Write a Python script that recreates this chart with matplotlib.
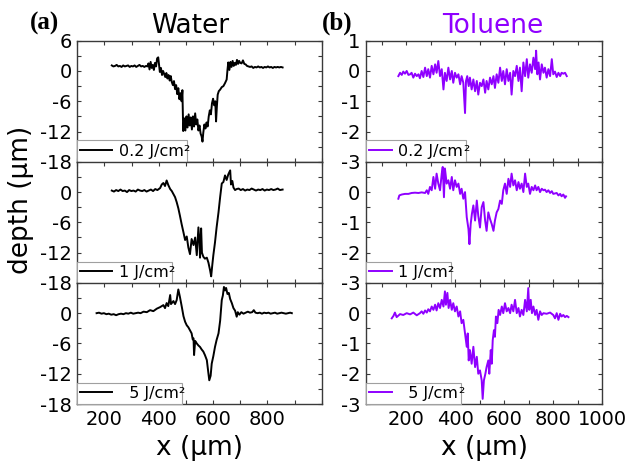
import matplotlib
matplotlib.use("Agg")
import matplotlib.pyplot as plt
from matplotlib.ticker import MultipleLocator, FuncFormatter

plt.rcParams['font.family'] = ['DejaVu Sans']
plt.rcParams['axes.unicode_minus'] = False

PURPLE = '#8f00ff'

# ---------------- Water, 0.2 J/cm2 ----------------
w1_x = [227, 233, 239, 245, 251, 257, 263, 269, 275, 281, 287, 293, 299, 305, 311, 317, 323, 329, 335, 341, 347, 353, 358,
        362, 366, 370, 374, 378, 382, 386, 390, 394, 398,
        404, 408, 412, 416, 420, 424, 428, 432, 436, 440, 444, 448, 452, 456, 460, 464, 468, 472, 476, 480, 484, 487, 490,
        494, 498, 502, 506, 510, 514, 518, 522, 526, 530, 534, 538, 542, 546, 550, 554, 558, 561, 564, 568,
        572, 576, 580, 584, 588, 592, 596, 600, 604, 608, 611, 614, 617, 621, 626, 632, 638, 644, 650, 653, 656,
        660, 664, 668, 672, 676, 680, 684, 688, 692, 696, 700, 705, 710, 715, 720, 725, 730,
        736, 742, 748, 754, 760, 766, 772, 778, 784, 790, 796, 802, 808, 814, 820, 826, 832, 838, 844, 850, 856]
w1_y = [1.1, 0.9, 1.0, 1.2, 0.9, 1.0, 0.8, 1.1, 0.9, 1.0, 1.1, 0.8, 1.0, 0.9, 1.1, 0.8, 1.0, 1.2, 0.9, 1.0, 0.8, 1.0, 0.9,
        1.5, 0.3, 1.8, 0.6, 1.2, 0.2, 1.6, 0.9, 2.5, 2.7,
        -0.2, 0.6, -0.8, 0.0, -0.6, -1.2, -0.4, -1.5, -0.8, -1.9, -1.0, -2.2, -2.8, -2.0, -3.6, -2.8, -4.6, -3.4, -5.6, -4.4, -6.0, -3.8, -11.9,
        -9.4, -11.8, -9.0, -11.2, -8.6, -10.8, -9.2, -11.6, -9.0, -11.0, -8.4, -10.6, -9.6, -11.8, -10.8, -12.4, -13.0, -14.0, -12.2, -10.6,
        -11.4, -10.2, -11.0, -9.0, -7.8, -8.6, -6.4, -5.5, -6.8, -6.0, -10.0, -7.0, -4.7, -4.0, -3.7, -3.2, -3.0, -2.4, -1.7, 0.2, 1.7,
        0.2, 1.8, 0.8, 2.0, 1.0, 1.6, 1.2, 2.2, 1.4, 2.0, 1.6, 1.5, 2.1, 1.4, 1.3, 1.0, 0.9,
        0.8, 0.9, 0.6, 0.8, 0.7, 0.9, 0.7, 0.8, 0.6, 0.8, 0.7, 0.9, 0.7, 0.8, 0.6, 0.8, 0.7, 0.8, 0.7, 0.8, 0.7]

# ---------------- Water, 1 J/cm2 ----------------
w2_x = [227, 235, 243, 251, 259, 267, 275, 283, 291, 299, 307, 315, 323, 331, 339, 347, 355, 363, 371, 379, 387, 395,
        405, 411, 417, 423, 429, 435, 442, 448, 454, 460, 466, 472, 478, 484, 491, 497, 503, 509, 515, 521,
        528, 534, 540, 546, 550, 552, 556, 559, 564, 570, 577, 583, 589, 593, 597, 601, 607, 613, 620, 626,
        632, 638, 644, 650, 656, 663, 666, 671, 675, 681, 687,
        694, 702, 710, 718, 726, 734, 742, 750, 758, 766, 774, 782, 790, 798, 806, 814, 822, 830, 838, 846, 856]
w2_y = [0.3, 0.1, 0.4, 0.2, 0.5, 0.2, 0.3, 0.0, 0.4, 0.2, 0.3, 0.1, 0.5, 0.3, 0.2, 0.4, 0.1, 0.3, 0.5, 0.2, 0.6, 0.4,
        0.8, 1.5, 1.8, 1.2, 2.3, 1.4, 0.6, 0.2, -0.4, -1.0, -2.0, -3.2, -4.7, -6.3, -8.0, -9.5, -8.8, -11.0, -12.3, -9.3,
        -10.5, -9.0, -12.5, -7.0, -10.0, -13.0, -7.2, -12.0, -12.8, -13.2, -13.0, -14.0, -15.5, -16.7, -14.5, -12.5, -10.0, -7.0, -4.0, -1.0,
        1.7, 2.0, 3.3, 2.4, 3.5, 4.3, 1.5, 2.2, 0.9, 0.4, 0.6,
        0.7, 0.4, 0.6, 0.3, 0.5, 0.4, 0.7, 0.5, 0.3, 0.5, 0.4, 0.6, 0.3, 0.5, 0.4, 0.6, 0.4, 0.5, 0.7, 0.4, 0.5]

# ---------------- Water, 5 J/cm2 ----------------
w3_x = [171, 180, 189, 198, 207, 216, 225, 234, 243, 252, 261, 270, 279, 288, 297, 306, 315, 324, 333,
        344, 356, 368, 380, 393, 405, 417, 423, 429, 435, 442, 445,
        454, 460, 466, 472, 478, 485, 491, 497, 503, 509, 515, 521, 525, 528, 530, 534, 540, 546, 552, 558,
        564, 570, 577, 583, 586, 591, 595, 601, 607, 613, 620, 626, 632, 636, 640, 644, 648, 653, 658, 663,
        669, 675, 681, 687, 691, 697,
        704, 712, 720, 728, 736, 744, 750, 756, 764, 772, 780, 788, 796, 804, 812, 820, 828, 836, 844, 852, 860, 868, 876, 884, 890]
w3_y = [0.0, 0.1, -0.1, 0.0, -0.2, -0.1, -0.3, -0.2, -0.4, -0.2, -0.1, -0.2, 0.0, -0.1, 0.1, -0.1, 0.0, 0.1, 0.0,
        0.3, 0.2, 0.6, 0.4, 0.9, 1.2, 1.6, 1.0, 2.0, 1.4, 3.6, 1.8,
        2.4, 1.8, 2.6, 4.7, 3.2, 1.2, -0.6, -1.7, -2.4, -2.8, -3.4, -4.0, -5.2, -5.0, -8.3, -5.5, -6.0, -6.4, -6.7, -7.2,
        -7.6, -8.3, -9.3, -12.0, -13.3, -12.4, -10.0, -8.5, -6.7, -5.3, -4.0, -1.5, 2.6, 3.5, 5.2, 4.5, 5.0, 3.8, 4.0, 2.8,
        2.0, 1.0, 0.5, -0.7, 0.2, -0.3,
        0.2, -0.1, 0.1, 0.3, 0.1, 0.2, 0.6, 0.1, 0.0, 0.1, -0.1, 0.1, 0.0, 0.1, -0.1, 0.0, 0.1, -0.1, 0.0, 0.1, 0.0, -0.1, 0.0, 0.1, 0.0]

# ---------------- Toluene, 0.2 J/cm2 ----------------
t1_x = [168, 175, 182, 188, 195, 202, 209, 216, 222, 229, 236, 243, 250, 256, 263, 270, 277, 284, 290, 297,
        304, 311, 318, 324, 331, 338, 345, 352, 358, 365, 372, 379, 386, 392, 399, 406, 413, 420, 426, 433, 440,
        444, 449, 455,
        460, 467, 474, 481, 488, 494, 501, 508, 515, 522, 528, 535, 542, 549, 556, 562, 569, 576, 583, 590,
        596, 603, 610, 617, 624, 630, 637, 644, 651, 658, 664, 671, 678, 685, 692, 698, 705, 712, 719, 726,
        730, 735, 740,
        746, 753, 760, 766, 773, 780, 787, 794, 800, 807, 814, 821, 828, 834, 841, 848, 855]
t1_y = [-0.17, -0.06, -0.13, -0.02, -0.09, 0.0, -0.13, -0.11, -0.06, -0.22, -0.09, -0.17, -0.11, -0.24, 0.0, -0.2, 0.11, -0.17, 0.06, -0.22,
        0.17, -0.11, 0.22, -0.06, 0.33, -0.17, 0.06, -0.61, -0.06, -0.33, 0.11, -0.28, 0.0, -0.39, -0.06, -0.22, -0.11, -0.44, -0.17, -0.39, -1.39,
        -0.33, -0.17, -0.5,
        -0.22, -0.61, -0.28, -0.67, -0.33, -0.78, -0.39, -0.5, -0.28, -0.72, -0.33, -0.61, -0.22, -0.44, -0.17, -0.56, -0.11, -0.39, 0.11, -0.33,
        0.0, -0.44, 0.06, -0.33, -0.06, -0.78, 0.0, -0.17, 0.17, -0.33, 0.11, -0.67, 0.28, -0.17, 0.39, -0.22, 0.22, -0.06, 0.44, 0.06,
        0.67, -0.11, 0.28,
        -0.28, 0.22, -0.06, 0.11, -0.22, 0.06, -0.17, 0.39, -0.11, -0.02, -0.2, -0.06, -0.17, -0.06, -0.09, -0.06, -0.17]

# ---------------- Toluene, 1 J/cm2 ----------------
t2_x = [168, 172, 182, 195, 209, 222, 236, 250, 263, 277,
        284, 290, 297, 304, 311, 318, 324, 331, 338, 345, 349, 354, 358, 365, 372, 379, 386, 392, 399, 406, 413, 420, 426, 433, 440,
        447, 454, 458, 463, 468, 474,
        481, 488, 494, 501, 508, 515, 522, 528, 535, 542, 549, 556, 562, 569, 576, 583, 590, 596, 603, 610,
        617, 624, 630, 637, 644, 651, 658, 664, 671, 678, 685, 692, 698, 705, 712, 719, 726, 732, 739, 746,
        753, 760, 766, 773, 780, 787, 794, 800,
        814, 821, 828, 834, 841, 848, 852]
t2_y = [-0.22, -0.11, -0.08, -0.06, -0.06, -0.03, -0.02, -0.03, -0.01, -0.03,
        0.06, -0.06, 0.17, 0.06, 0.5, 0.11, 0.61, 0.28, 0.06, 0.61, 0.83, -0.17, 0.78, 0.28, 0.39, 0.11, 0.5, 0.06, 0.39, 0.17, 0.28, -0.06, 0.11, -0.22, 0.0,
        -0.83, -1.22, -1.72, -1.06, -0.72, -0.44,
        -0.94, -0.28, -0.78, -1.17, -0.5, -0.33, -0.94, -1.28, -0.67, -0.89, -1.06, -1.28, -0.94, -0.67, -0.56, -0.28, -0.39, 0.06, 0.28, -0.06,
        0.44, 0.17, 0.61, 0.22, 0.39, 0.06, 0.33, 0.11, 0.28, 0.0, 0.61, 0.17, 0.28, -0.06, 0.17, 0.06, 0.22, 0.06, 0.17, 0.0,
        0.11, 0.06, 0.08, 0.0, 0.06, -0.03, 0.03, -0.06,
        -0.03, -0.11, -0.06, -0.14, -0.08, -0.19, -0.14]

# ---------------- Toluene, 5 J/cm2 ----------------
t3_x = [141, 148, 154, 161, 175, 188, 202, 216, 229, 243, 256, 263, 270, 277, 284, 290, 297, 304, 311, 318,
        324, 331, 338, 345, 352, 358, 362, 368, 373, 379, 386, 392, 399, 406, 413, 420, 426, 433, 440, 447,
        451, 455, 460, 467, 474, 481, 488, 494, 501, 508, 512, 517, 523, 528, 535, 539, 545, 549, 553, 558,
        562, 566, 572, 577, 583, 590, 596, 603, 610, 617, 624, 630, 637, 644, 651, 658, 664, 671, 678, 685,
        692, 698, 702, 708, 713, 719, 726, 732, 739, 746, 753, 760, 773, 787, 800, 807, 814, 821, 828, 834,
        841, 848, 855, 862]
t3_y = [-0.17, -0.09, 0.02, -0.13, -0.03, -0.06, 0.0, -0.04, 0.02, -0.07, 0.0, 0.06, -0.02, 0.09, 0.02, 0.13, 0.06, 0.22, 0.11, 0.28,
        0.09, 0.33, 0.17, 0.44, 0.22, 0.72, 0.28, 0.67, 0.17, 0.44, 0.11, 0.33, 0.06, 0.22, -0.11, 0.06, -0.33, -0.22, -0.67, -1.11,
        -0.67, -1.56, -1.22, -1.67, -1.11, -1.78, -1.44, -2.0, -1.89, -2.22, -2.83, -2.22, -2.0, -1.78, -1.56, -2.0, -1.22, -1.67, -0.89, -0.56,
        -0.78, -0.11, -0.33, 0.11, -0.06, 0.22, 0.0, 0.33, 0.06, 0.17, 0.0, 0.28, 0.06, 0.44, 0.0, 0.17, -0.11, 0.11, -0.06, 0.44,
        0.06, 0.83, 0.11, 0.44, 0.0, 0.22, -0.06, 0.11, -0.22, 0.06, -0.06, 0.0, -0.02, 0.02, -0.06, -0.17, 0.0, -0.22, -0.02, -0.11,
        -0.06, -0.13, -0.09, -0.13]

water_series = [(w1_x, w1_y), (w2_x, w2_y), (w3_x, w3_y)]
toluene_series = [(t1_x, t1_y), (t2_x, t2_y), (t3_x, t3_y)]
water_labels = ['0.2 J/cm', '1 J/cm', '  5 J/cm']
toluene_labels = ['0.2 J/cm', '1 J/cm', '  5 J/cm']

W, H = 633, 461
fig = plt.figure(figsize=(W / 100, H / 100), dpi=100)

def fx(px):
    return px / W

def fy(py):
    return 1 - py / H

panel_top = 40.7
panel_h = (404.0 - 40.7) / 3

left_x0, left_x1 = 77.3, 321.7
right_x0, right_x1 = 366.0, 602.3

SPINE = '#3a3a3a'

def style_axes(ax, yminor, xlabels_on, fmt_x, fmt_y):
    for s in ax.spines.values():
        s.set_color(SPINE)
        s.set_linewidth(1.0)
    ax.xaxis.set_major_locator(MultipleLocator(100))
    ax.yaxis.set_major_locator(MultipleLocator(yminor))
    ax.tick_params(which='both', direction='in', top=True, right=True,
                   length=3, width=0.8, color=SPINE, labelsize=14, pad=4)
    ax.xaxis.set_major_formatter(FuncFormatter(fmt_x))
    ax.yaxis.set_major_formatter(FuncFormatter(fmt_y))
    if not xlabels_on:
        ax.tick_params(labelbottom=False)

def make_legend(ax, line, label, hl):
    leg = ax.legend([line], [label], loc='lower left', borderaxespad=0,
                    fontsize=11.5, handlelength=hl, handletextpad=0.4,
                    borderpad=0.2, fancybox=False, framealpha=1,
                    edgecolor='#a0a0a0', facecolor='white')
    leg.get_frame().set_linewidth(0.8)
    txt = leg.get_texts()[0]
    ax.annotate('²', xy=(1, 0), xycoords=txt, ha='left', va='bottom',
                fontsize=11.5, zorder=10, annotation_clip=False)

for col, (series, labels, color, x0, x1, xlim, ylim, ystep, yminor, hl, xmax_lab) in enumerate([
        (water_series, water_labels, 'black', left_x0, left_x1, (100, 1000), (-18, 6), 6, 3, 2.0, 800),
        (toluene_series, toluene_labels, PURPLE, right_x0, right_x1, (36, 1000), (-3, 1), 1, 0.5, 1.4, 1000)]):
    for row in range(3):
        bottom_px = panel_top + panel_h * (row + 1)
        ax = fig.add_axes([fx(x0), fy(bottom_px), fx(x1) - fx(x0), panel_h / H])
        xs, ys = series[row]
        line, = ax.plot(xs, ys, color=color, lw=1.4)
        ax.set_xlim(*xlim)
        ax.set_ylim(*ylim)

        def fmt_x(v, p, xm=xmax_lab):
            r = int(round(v))
            return str(r) if (r % 200 == 0 and 200 <= r <= xm) else ''

        def fmt_y(v, p, step=ystep, top=ylim[1], first=(row == 0)):
            if abs(v / step - round(v / step)) > 1e-6:
                return ''
            if abs(v - top) < 1e-6 and not first:
                return ''
            return '%d' % round(v)

        style_axes(ax, yminor, row == 2, fmt_x, fmt_y)
        make_legend(ax, line, labels[row], hl)

# titles
fig.text(fx(190), fy(33), 'Water', fontsize=19, ha='center', va='baseline', color='black')
fig.text(fx(493), fy(33), 'Toluene', fontsize=19, ha='center', va='baseline', color=PURPLE)

# panel letters
fig.text(fx(30), fy(30), '(a)', fontsize=18, fontweight='bold', family='Liberation Serif',
         ha='left', va='baseline')
fig.text(fx(322), fy(30), '(b)', fontsize=18, fontweight='bold', family='Liberation Serif',
         ha='left', va='baseline')

# axis labels
fig.text(fx(21), fy(199.5), 'depth (µm)', fontsize=19, rotation=90, ha='center', va='center')
fig.text(fx(200), fy(455), 'x (µm)', fontsize=19, ha='center', va='baseline')
fig.text(fx(484), fy(455), 'x (µm)', fontsize=19, ha='center', va='baseline')

fig.savefig('out.png', dpi=100)
